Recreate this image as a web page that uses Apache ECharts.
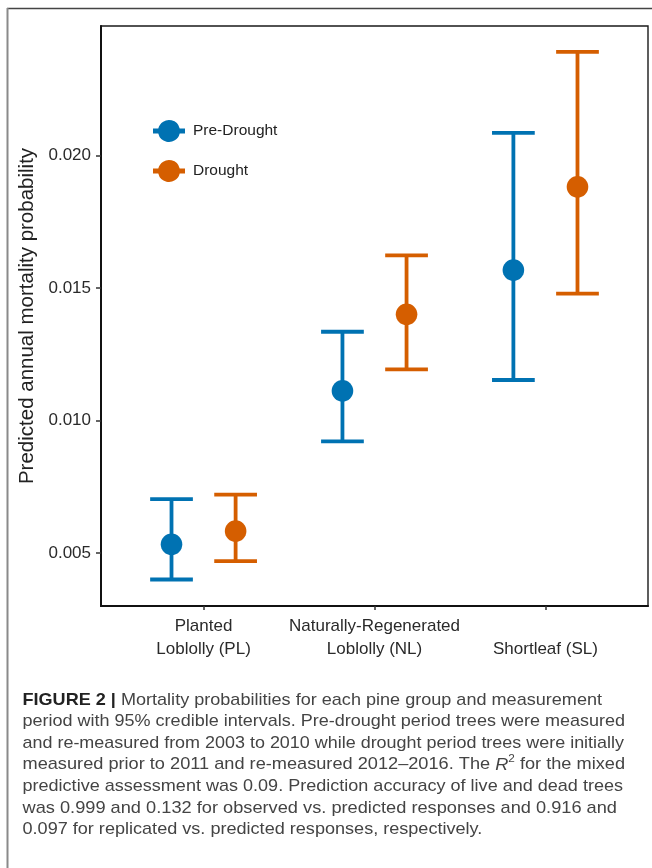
<!DOCTYPE html>
<html>
<head>
<meta charset="utf-8">
<script src="https://cdn.jsdelivr.net/npm/echarts@6/dist/echarts.min.js"></script>
<style>html,body{margin:0;padding:0;background:#fff}#c{width:652px;height:868px}</style>
</head>
<body>
<div id="c"></div>
<script>
// ---- data ----
const categories = ['Planted\nLoblolly (PL)', 'Naturally-Regenerated\nLoblolly (NL)', 'Shortleaf (SL)'];
const periods = ['Pre-Drought', 'Drought'];
const preEst  = [0.00533, 0.01112, 0.01568];
const preLow  = [0.00400, 0.00921, 0.01153];
const preHigh = [0.00703, 0.01335, 0.02086];
const drEst   = [0.00583, 0.01401, 0.01882];
const drLow   = [0.00469, 0.01193, 0.01479];
const drHigh  = [0.00720, 0.01623, 0.02391];
const yTicks = [0.005, 0.010, 0.015, 0.020];
const yTitle = 'Predicted annual mortality probability';
const captionLines = [
  [{t:'FIGURE 2 | ', b:1}, {t:'Mortality probabilities for each pine group and measurement'}],
  [{t:'period with 95% credible intervals. Pre-drought period trees were measured'}],
  [{t:'and re-measured from 2003 to 2010 while drought period trees were initially'}],
  [{t:'measured prior to 2011 and re-measured 2012\u20132016. The '}, {t:'R', i:1}, {t:'2', sup:1}, {t:' for the mixed'}],
  [{t:'predictive assessment was 0.09. Prediction accuracy of live and dead trees'}],
  [{t:'was 0.999 and 0.132 for observed vs. predicted responses and 0.916 and'}],
  [{t:'0.097 for replicated vs. predicted responses, respectively.'}]
];

// ---- layout ----
const colors = ['#0072B2', '#D55E00'];
const dodge = 0.1875;
const capUnits = 0.25;
const FONT = 'Liberation Sans, Arial, Helvetica, sans-serif';

function rowsFor(est, lo, hi, off) {
  return est.map((v, i) => [i + 1 + off, v, lo[i], hi[i]]);
}

function renderItem(params, api) {
  const x = api.value(0), est = api.value(1), lo = api.value(2), hi = api.value(3);
  const pHi = api.coord([x, hi]), pLo = api.coord([x, lo]), pE = api.coord([x, est]);
  const half = api.size([capUnits, 0])[0] / 2;
  const col = api.visual('color');
  const ls = {stroke: col, lineWidth: 3.8};
  return {
    type: 'group',
    children: [
      {type: 'line', shape: {x1: pHi[0], y1: pHi[1], x2: pLo[0], y2: pLo[1]}, style: ls},
      {type: 'line', shape: {x1: pHi[0] - half, y1: pHi[1], x2: pHi[0] + half, y2: pHi[1]}, style: ls},
      {type: 'line', shape: {x1: pLo[0] - half, y1: pLo[1], x2: pLo[0] + half, y2: pLo[1]}, style: ls},
      {type: 'circle', shape: {cx: pE[0], cy: pE[1], r: 10.8}, style: {fill: col}}
    ]
  };
}

// caption graphic elements, measured with canvas
const ctx = document.createElement('canvas').getContext('2d');
const capSize = 17, supSize = 11;
const lineTargets = [602, 625, 624, 625, 623, 617, null];
const capX0 = 22.5, capY0 = 700, capDy = 21.6;
function segFont(s) {
  const size = s.sup ? supSize : capSize;
  return (s.i ? 'italic ' : 'normal ') + (s.b ? 'bold ' : 'normal ') + size + 'px ' + FONT;
}
const measured = captionLines.map(segs => segs.map(s => { ctx.font = segFont(s); return ctx.measureText(s.t).width; }));
const scales = measured.map((w, li) => lineTargets[li] ? (lineTargets[li] - capX0) / w.reduce((a, b) => a + b, 0) : null);
const known = scales.filter(s => s);
const meanScale = known.reduce((a, b) => a + b, 0) / known.length;
const captionEls = [];
captionLines.forEach((segs, li) => {
  const widths = measured[li];
  const scale = scales[li] || meanScale;
  let cum = 0;
  const y = capY0 + li * capDy;
  segs.forEach((s, k) => {
    captionEls.push({
      type: 'text', x: capX0 + cum * scale, y: s.sup ? y - 6 : y, scaleX: scale, silent: true,
      style: {
        text: s.t, fontSize: s.sup ? supSize : capSize, fontFamily: FONT,
        fontWeight: s.b ? 'bold' : 'normal', fontStyle: s.i ? 'italic' : 'normal',
        fill: s.b ? '#222' : '#444',
        textAlign: 'left', textVerticalAlign: 'middle', align: 'left', verticalAlign: 'middle'
      }
    });
    cum += widths[k];
  });
});

const legendIcon = 'path://M0,8.5 L5.29,8.5 A11,11 0 0,1 26.71,8.5 L32,8.5 L32,13.5 L26.71,13.5 A11,11 0 0,1 5.29,13.5 L0,13.5 Z';

const chart = echarts.init(document.getElementById('c'), null, {renderer: 'canvas'});
chart.setOption({
  animation: false,
  backgroundColor: '#fff',
  textStyle: {fontFamily: FONT},
  grid: {left: 101, right: 4, top: 26, bottom: 262, show: true, borderColor: '#1a1a1a', borderWidth: 1.4, backgroundColor: 'transparent'},
  legend: {
    orient: 'vertical', left: 148, top: 115, itemWidth: 32, itemHeight: 22, itemGap: 18,
    icon: legendIcon, data: periods,
    textStyle: {fontSize: 15.5, color: '#222', fontFamily: FONT, padding: [0, 0, 0, 3]}
  },
  xAxis: {
    type: 'value', min: 0.4, max: 3.6,
    splitLine: {show: false},
    axisLine: {show: true, onZero: false, lineStyle: {color: '#111', width: 2}},
    axisTick: {show: true, length: 4, customValues: [1, 2, 3], lineStyle: {color: '#333', width: 1.5}},
    axisLabel: {
      customValues: [1, 2, 3], margin: 9, fontSize: 17, color: '#2a2a2a', lineHeight: 23, fontFamily: FONT,
      formatter: v => { const s = categories[Math.round(v) - 1] || ''; return s.indexOf('\n') < 0 ? '\n' + s : s; }
    }
  },
  yAxis: {
    type: 'value', min: 0.0030, max: 0.02489,
    splitLine: {show: false},
    name: yTitle, nameLocation: 'middle', nameGap: 55,
    nameTextStyle: {fontSize: 20.5, color: '#222', fontFamily: FONT},
    axisLine: {show: true, onZero: false, lineStyle: {color: '#111', width: 2}},
    axisTick: {show: true, length: 5, customValues: yTicks, lineStyle: {color: '#333', width: 1.5}},
    axisLabel: {customValues: yTicks, margin: 10, fontSize: 17, color: '#2a2a2a', fontFamily: FONT, formatter: v => v.toFixed(3)}
  },
  series: [
    {name: periods[0], type: 'custom', renderItem, itemStyle: {color: colors[0]}, encode: {x: 0, y: [1, 2, 3]}, data: rowsFor(preEst, preLow, preHigh, -dodge)},
    {name: periods[1], type: 'custom', renderItem, itemStyle: {color: colors[1]}, encode: {x: 0, y: [1, 2, 3]}, data: rowsFor(drEst, drLow, drHigh, dodge)}
  ],
  graphic: [
    {type: 'line', silent: true, shape: {x1: 7, y1: 8.5, x2: 652, y2: 8.5}, style: {stroke: '#444', lineWidth: 1.6}},
    {type: 'line', silent: true, shape: {x1: 7.5, y1: 8, x2: 7.5, y2: 868}, style: {stroke: '#8a8a8a', lineWidth: 2}}
  ].concat(captionEls)
});
</script>
</body>
</html>
